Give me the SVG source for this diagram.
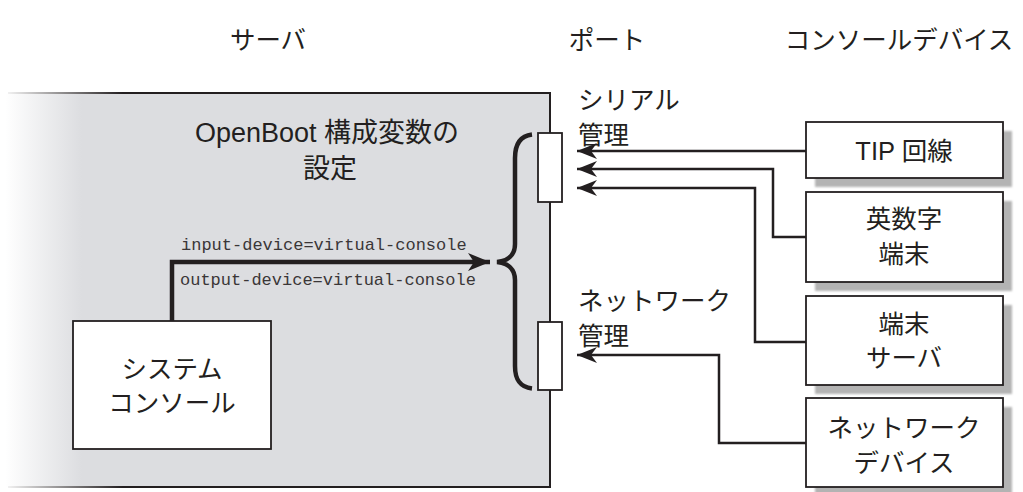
<svg xmlns="http://www.w3.org/2000/svg" width="1023" height="492" viewBox="0 0 1023 492">
<style>
text{font-family:"Liberation Sans","Noto Sans CJK JP",sans-serif;fill:#231f20;font-size:25.5px}
.jp{font-family:"Noto Sans CJK JP","Liberation Sans",sans-serif}
.c{text-anchor:middle}
.title{font-size:27px}
.mono{font-family:"Liberation Mono","DejaVu Sans Mono",monospace;font-size:17px;fill:#3a3637}
.box{fill:#fff;stroke:#231f20;stroke-width:1.8}
.shadow{fill:#b3b3b3;filter:url(#blur)}
.conn{fill:none;stroke:#231f20;stroke-width:2.5}
.thick{fill:none;stroke:#231f20;stroke-width:4.5}
</style>
<defs>
<linearGradient id="srvfill" x1="0" y1="0" x2="1023" y2="0" gradientUnits="userSpaceOnUse">
<stop offset="0.005" stop-color="#ffffff"/>
<stop offset="0.08" stop-color="#dcdde0"/>
<stop offset="1" stop-color="#dcdde0"/>
</linearGradient>
<linearGradient id="srvline" x1="0" y1="0" x2="1023" y2="0" gradientUnits="userSpaceOnUse">
<stop offset="0" stop-color="#ffffff"/>
<stop offset="0.12" stop-color="#231f20"/>
<stop offset="1" stop-color="#231f20"/>
</linearGradient>
<filter id="blur" x="-10%" y="-10%" width="120%" height="120%">
<feGaussianBlur stdDeviation="1"/>
</filter>
<marker id="ah" markerUnits="userSpaceOnUse" markerWidth="22" markerHeight="18" refX="20" refY="8" orient="auto" viewBox="0 0 22 18">
<path d="M0,0 L20,8 L0,16 L6,8 Z" fill="#231f20"/>
</marker>
<marker id="ahbig" markerUnits="userSpaceOnUse" markerWidth="26" markerHeight="20" refX="22" refY="9" orient="auto" viewBox="0 0 26 20">
<path d="M0,0 L22,9 L0,18 L6,9 Z" fill="#231f20"/>
</marker>
</defs>

<g id="headers">
<text class="jp c" x="268" y="49">サーバ</text>
<text class="jp c" x="607" y="49">ポート</text>
<text class="jp c" x="899" y="49">コンソールデバイス</text>
</g>

<g id="server">
<rect x="0" y="93" width="550" height="394" fill="url(#srvfill)"/>
<path d="M8,93 H550 M8,487 H550" stroke="url(#srvline)" stroke-width="2" fill="none"/>
<path d="M550,92 V488" stroke="#231f20" stroke-width="2" fill="none"/>
<text class="c title" x="327" y="142">OpenBoot 構成変数の</text>
<text class="jp c title" x="330" y="178">設定</text>
<text class="mono" x="181" y="250">input-device=virtual-console</text>
<text class="mono" x="180" y="285">output-device=virtual-console</text>
<path d="M532,134.5 C520,136 515,144 515,158 L515,244 C515,255 508,261 497,262 C508,263 515,269 515,280 L515,366 C515,380 520,387 532,388.5" fill="none" stroke="#231f20" stroke-width="4.5"/>
</g>

<g id="system-console">
<rect class="box" x="73" y="321" width="198" height="128"/>
<text class="jp c" x="172" y="378">システム</text>
<text class="jp c" x="172" y="412">コンソール</text>
</g>

<g id="serial-port">
<rect class="box" x="538" y="133" width="24" height="69"/>
<text class="jp" x="578" y="109">シリアル</text>
<text class="jp" x="578" y="144">管理</text>
</g>

<g id="network-port">
<rect class="box" x="538" y="322" width="24" height="68"/>
<text class="jp" x="578" y="310">ネットワーク</text>
<text class="jp" x="578" y="345">管理</text>
</g>

<g id="tip-line">
<rect class="shadow" x="815" y="131" width="197" height="56"/>
<rect class="box" x="806" y="122" width="197" height="56"/>
<text class="c" x="904" y="160">TIP 回線</text>
</g>

<g id="alnum-terminal">
<rect class="shadow" x="815" y="201" width="197" height="90"/>
<rect class="box" x="806" y="192" width="197" height="90"/>
<text class="jp c" x="904" y="228">英数字</text>
<text class="jp c" x="904" y="263">端末</text>
</g>

<g id="terminal-server">
<rect class="shadow" x="815" y="305" width="197" height="89"/>
<rect class="box" x="806" y="296" width="197" height="89"/>
<text class="jp c" x="904" y="333">端末</text>
<text class="jp c" x="904" y="367">サーバ</text>
</g>

<g id="network-device">
<rect class="shadow" x="815" y="407" width="197" height="89"/>
<rect class="box" x="806" y="398" width="197" height="89"/>
<text class="jp c" x="904" y="437">ネットワーク</text>
<text class="jp c" x="904" y="472">デバイス</text>
</g>

<g id="connectors">
<path class="thick" d="M172,321 V262 H490" marker-end="url(#ahbig)"/>
<path class="conn" d="M806,151 H577" marker-end="url(#ah)"/>
<path class="conn" d="M806,237 H773 V169 H577" marker-end="url(#ah)"/>
<path class="conn" d="M806,342 H755 V188 H577" marker-end="url(#ah)"/>
<path class="conn" d="M806,443 H719 V355 H577" marker-end="url(#ah)"/>
</g>
</svg>
